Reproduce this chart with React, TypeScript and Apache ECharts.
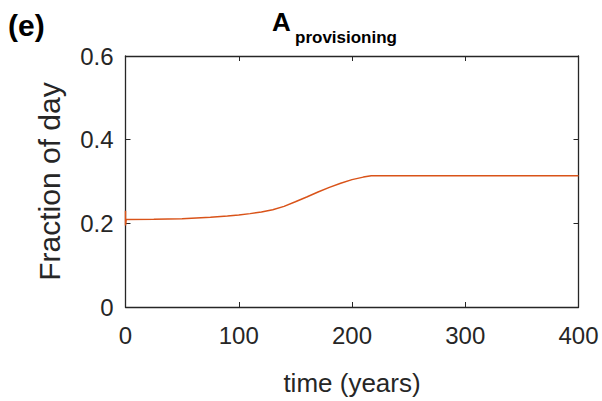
import React, { useEffect, useRef } from "react";
import * as echarts from "echarts";

const timeYears = [0, 0, 0.6, 25, 50, 75, 90, 100, 110, 120, 130, 140, 150, 160, 170, 180, 190, 200, 210, 217, 300, 400];
const fraction = [0.23, 0.195, 0.209, 0.2095, 0.2112, 0.2145, 0.2175, 0.2200, 0.2232, 0.2272, 0.2325, 0.2405, 0.2515, 0.2630, 0.2750, 0.2860, 0.2960, 0.3045, 0.3105, 0.3137, 0.3137, 0.3137];
const xTicks = [0, 100, 200, 300, 400];
const yTicks = [0, 0.2, 0.4, 0.6];

const FONT = "'Liberation Sans', Arial, Helvetica, sans-serif";
const AX = "#262626";

export default function App() {
  const ref = useRef<HTMLDivElement>(null);
  useEffect(() => {
    if (!ref.current) return;
    const chart = echarts.init(ref.current, undefined, { renderer: "svg" });
    const data = timeYears.map((t, i) => [t, fraction[i]]);
    const axisCommon = {
      axisLine: { show: true, onZero: false, lineStyle: { color: AX, width: 1.3 } },
      axisTick: { show: true, inside: true, length: 5, lineStyle: { color: AX, width: 1 } },
      splitLine: { show: false },
    };
    chart.setOption({
      animation: false,
      backgroundColor: "#ffffff",
      grid: { left: 125.5, right: 23.5, top: 56, bottom: 90, containLabel: false },
      xAxis: [
        {
          type: "value",
          min: xTicks[0],
          max: xTicks[xTicks.length - 1],
          interval: 100,
          position: "bottom",
          ...axisCommon,
          axisLabel: { color: AX, fontSize: 24, fontFamily: FONT, margin: 16 },
          name: "time (years)",
          nameLocation: "middle",
          nameGap: 63,
          nameTextStyle: { color: AX, fontSize: 26, fontFamily: FONT },
        },
        {
          type: "value",
          min: xTicks[0],
          max: xTicks[xTicks.length - 1],
          interval: 100,
          position: "top",
          ...axisCommon,
          axisLabel: { show: false },
        },
      ],
      yAxis: [
        {
          type: "value",
          min: yTicks[0],
          max: yTicks[yTicks.length - 1],
          interval: 0.2,
          position: "left",
          ...axisCommon,
          axisLabel: { color: AX, fontSize: 24, fontFamily: FONT, margin: 12 },
          name: "Fraction of day",
          nameLocation: "middle",
          nameGap: 61,
          nameRotate: 90,
          nameTextStyle: { color: AX, fontSize: 30, fontFamily: FONT },
        },
        {
          type: "value",
          min: yTicks[0],
          max: yTicks[yTicks.length - 1],
          interval: 0.2,
          position: "right",
          ...axisCommon,
          axisLabel: { show: false },
        },
      ],
      graphic: [
        {
          type: "text",
          x: 8,
          y: 10,
          style: { text: "(e)", fontSize: 30, fontWeight: "bold", fontFamily: FONT, fill: "#000", verticalAlign: "top" },
        },
        {
          type: "text",
          x: 272,
          y: 9,
          style: { text: "A", fontSize: 26, fontWeight: "bold", fontFamily: FONT, fill: "#000", verticalAlign: "top" },
        },
        {
          type: "text",
          x: 295,
          y: 29,
          style: { text: "provisioning", fontSize: 17, fontWeight: "bold", fontFamily: FONT, fill: "#000", verticalAlign: "top" },
        },
      ],
      series: [
        {
          type: "line",
          data,
          showSymbol: false,
          symbol: "none",
          smooth: false,
          lineStyle: { color: "#D95319", width: 1.5 },
          xAxisIndex: 0,
          yAxisIndex: 0,
        },
      ],
    });
    return () => chart.dispose();
  }, []);
  return <div ref={ref} style={{ width: 602, height: 401, position: "absolute", left: 0, top: 0 }} />;
}
